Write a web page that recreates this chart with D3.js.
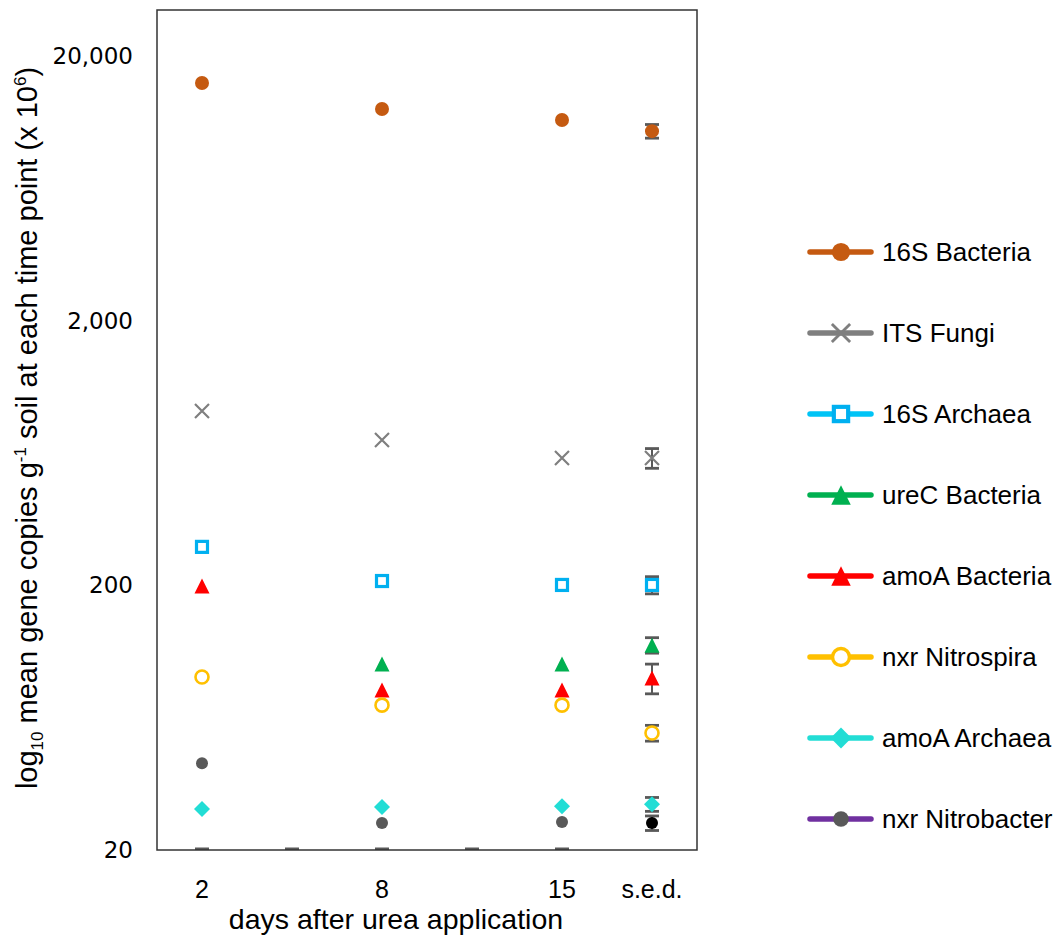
<!DOCTYPE html>
<html>
<head>
<meta charset="utf-8">
<script src="https://cdn.jsdelivr.net/npm/d3@7"></script>
<style>
  body { margin: 0; background: #fff; }
  text { font-family: "Liberation Sans", Arial, sans-serif; fill: #000; }
</style>
</head>
<body>
<div id="chart"></div>
<script>
// categories on the x axis (blank slots keep the spacing)
var categories = ["2", "", "8", "", "15", "s.e.d."];
var dayIndex = [0, 2, 4];
var sedIndex = 5;

var seriesNames = ["16S Bacteria", "ITS Fungi", "16S Archaea", "ureC Bacteria",
  "amoA Bacteria", "nxr Nitrospira", "amoA Archaea", "nxr Nitrobacter"];

// mean gene copies at days 2, 8, 15
var bacteria16S = [15890, 12670, 11510];
var fungiITS = [914, 710, 607];
var archaea16S = [280, 208, 201];
var ureCBacteria = [null, 101, 101];
var amoABacteria = [199, 80.5, 80.5];
var nxrNitrospira = [90.2, 70.6, 70.6];
var amoAArchaea = [28.6, 29.1, 29.3];
var nxrNitrobacter = [42.6, 25.3, 25.5];

// s.e.d. column: plotted value and half-height of the bar
var sedMeans = [10450, 607, 201, 119, 89.4, 55.4, 29.8, 25.3];
var sedErrors = [620, 52, 15, 8, 11.5, 3.8, 1.8, 1.6];

// small dashes sitting on the bottom of the axis
var floorValues = [20, 20, 20, 20, 20];

var yTicks = [20, 200, 2000, 20000];

var allSeries = [bacteria16S, fungiITS, archaea16S, ureCBacteria,
  amoABacteria, nxrNitrospira, amoAArchaea, nxrNitrobacter];

var styles = [
  { type: "circle", color: "#C55A11", line: "#C55A11", size: 7 },
  { type: "x", color: "#7F7F7F", line: "#7F7F7F", size: 7 },
  { type: "square", color: "#00B0F0", line: "#00C4F6", size: 5.5 },
  { type: "triangle", color: "#00B050", line: "#00B050", size: 7.5 },
  { type: "triangle", color: "#FF0000", line: "#FF0000", size: 7.5 },
  { type: "ring", color: "#FFC000", line: "#FFC000", size: 6.5 },
  { type: "diamond", color: "#22DDD5", line: "#22DDD5", size: 8 },
  { type: "circle", color: "#595959", line: "#7030A0", size: 6, sedColor: "#000" }
];

var svgWidth = 1064;
var svgHeight = 938;
var plot = { left: 157, right: 697, top: 10, bottom: 850 };

var svg = d3.select("#chart")
  .append("svg")
  .attr("width", svgWidth)
  .attr("height", svgHeight);

var x = d3.scaleBand()
  .domain(categories.map(function(c, i) { return i; }))
  .range([plot.left, plot.right]);

var y = d3.scaleLog()
  .domain([20, 30000])
  .range([plot.bottom, plot.top]);

function cx(i) { return x(i) + x.bandwidth() / 2; }

// draw a marker of a given style at (px, py), k scales it up for the legend
function drawMarker(g, st, px, py, k, colorOverride) {
  var s = st.size * k;
  var col = colorOverride || st.color;
  if (st.type === "circle") {
    g.append("circle").attr("cx", px).attr("cy", py).attr("r", s).attr("fill", col);
  } else if (st.type === "ring") {
    g.append("circle").attr("cx", px).attr("cy", py).attr("r", s)
      .attr("fill", "#fff").attr("stroke", col).attr("stroke-width", 2.6 * k);
  } else if (st.type === "square") {
    g.append("rect").attr("x", px - s).attr("y", py - s)
      .attr("width", 2 * s).attr("height", 2 * s)
      .attr("fill", "#fff").attr("stroke", col).attr("stroke-width", 3.2 * k);
  } else if (st.type === "triangle") {
    g.append("path")
      .attr("d", "M" + px + "," + (py - s) + "L" + (px + s) + "," + (py + s) +
        "L" + (px - s) + "," + (py + s) + "Z")
      .attr("fill", col);
  } else if (st.type === "diamond") {
    g.append("path")
      .attr("d", "M" + px + "," + (py - s) + "L" + (px + s) + "," + py +
        "L" + px + "," + (py + s) + "L" + (px - s) + "," + py + "Z")
      .attr("fill", col);
  } else if (st.type === "x") {
    g.append("path")
      .attr("d", "M" + (px - s) + "," + (py - s) + "L" + (px + s) + "," + (py + s) +
        "M" + (px + s) + "," + (py - s) + "L" + (px - s) + "," + (py + s))
      .attr("stroke", col).attr("stroke-width", 2.2 * k).attr("fill", "none");
  }
}

// floor dashes
svg.append("g").selectAll("rect")
  .data(floorValues)
  .enter()
  .append("rect")
  .attr("x", function(d, i) { return cx(i) - 7; })
  .attr("y", function(d) { return y(d) - 2.5; })
  .attr("width", 14)
  .attr("height", 2.5)
  .attr("fill", "#595959");

// frame
svg.append("rect")
  .attr("x", plot.left)
  .attr("y", plot.top)
  .attr("width", plot.right - plot.left)
  .attr("height", plot.bottom - plot.top)
  .attr("fill", "none")
  .attr("stroke", "#333")
  .attr("stroke-width", 1.5);

// error bars in the s.e.d. column
var errG = svg.append("g").attr("stroke", "#595959");
sedMeans.forEach(function(m, i) {
  var px = cx(sedIndex);
  var hi = y(m + sedErrors[i]);
  var lo = y(m - sedErrors[i]);
  errG.append("line").attr("x1", px).attr("x2", px).attr("y1", hi).attr("y2", lo)
    .attr("stroke-width", 2);
  [hi, lo].forEach(function(v) {
    errG.append("line").attr("x1", px - 7).attr("x2", px + 7).attr("y1", v).attr("y2", v)
      .attr("stroke-width", 2.8);
  });
});

// data points
var pointsG = svg.append("g");
allSeries.forEach(function(vals, si) {
  var st = styles[si];
  vals.forEach(function(v, j) {
    if (v == null) return;
    drawMarker(pointsG, st, cx(dayIndex[j]), y(v), 1);
  });
  drawMarker(pointsG, st, cx(sedIndex), y(sedMeans[si]), 1, st.sedColor);
});

// y axis labels
var yAxis = svg.append("g")
  .attr("transform", "translate(" + plot.left + ",0)")
  .call(d3.axisLeft(y).tickValues(yTicks).tickFormat(d3.format(",")).tickSize(0).tickPadding(24));
yAxis.select(".domain").remove();
yAxis.selectAll("text")
  .style("font-family", "'DejaVu Sans', Verdana, sans-serif")
  .attr("font-size", 23)
  .attr("fill", "#000");

// x axis labels
var xAxis = svg.append("g")
  .attr("transform", "translate(0," + plot.bottom + ")")
  .call(d3.axisBottom(x).tickFormat(function(i) { return categories[i]; }).tickSize(0).tickPadding(30));
xAxis.select(".domain").remove();
xAxis.selectAll("text")
  .attr("font-size", 25)
  .attr("fill", "#000");

// axis titles
svg.append("text")
  .attr("x", 396)
  .attr("y", 929)
  .attr("text-anchor", "middle")
  .attr("font-size", 28.5)
  .text("days after urea application");

var yTitle = svg.append("text")
  .attr("transform", "translate(37,428) rotate(-90)")
  .attr("text-anchor", "middle")
  .attr("font-size", 29);
yTitle.append("tspan").text("log");
yTitle.append("tspan").attr("font-size", 17).attr("dy", 6).text("10");
yTitle.append("tspan").attr("dy", -6).text(" mean gene copies g");
yTitle.append("tspan").attr("font-size", 17).attr("dy", -11).text("-1");
yTitle.append("tspan").attr("dy", 11).text(" soil at each time point (x 10");
yTitle.append("tspan").attr("font-size", 17).attr("dy", -11).text("6");
yTitle.append("tspan").attr("dy", 11).text(")");

// legend
var legend = svg.append("g");
seriesNames.forEach(function(name, i) {
  var st = styles[i];
  var ly = 252 + i * 81.0;
  legend.append("line")
    .attr("x1", 810).attr("x2", 871).attr("y1", ly).attr("y2", ly)
    .attr("stroke", st.line).attr("stroke-width", 5.5).attr("stroke-linecap", "round");
  drawMarker(legend, st, 841, ly, 1.3);
  legend.append("text")
    .attr("x", 882)
    .attr("y", ly + 9)
    .attr("font-size", 26)
    .text(name);
});
</script>
</body>
</html>
